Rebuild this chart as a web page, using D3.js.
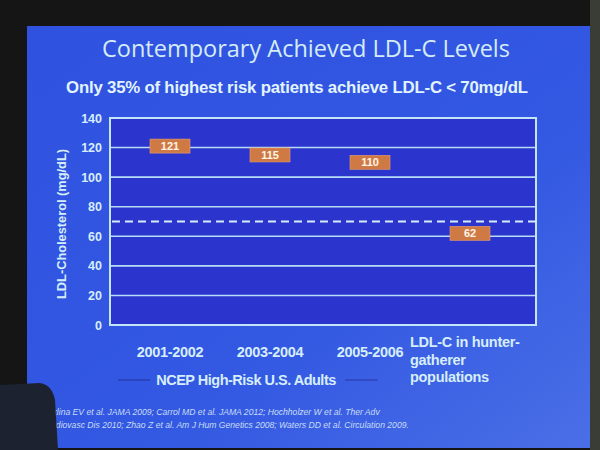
<!DOCTYPE html>
<html><head><meta charset="utf-8">
<script src="https://cdn.jsdelivr.net/npm/d3@7"></script>
<style>body{margin:0;background:#151515;}svg{display:block;}</style>
</head><body>
<svg id="c" width="600" height="450"></svg>
<script>
const categories = ["2001-2002","2003-2004","2005-2006","LDL-C in hunter-gatherer populations"];
const values = [121,115,110,62];
const yTicks = [0,20,40,60,80,100,120,140];
const goal = 70;
const title = "Contemporary Achieved LDL-C Levels";
const subtitle = "Only 35% of highest risk patients achieve LDL-C < 70mg/dL";
const refs = ["Kuklina EV et al. JAMA 2009; Carrol MD et al. JAMA 2012; Hochholzer W et al. Ther Adv",
              "Cardiovasc Dis 2010; Zhao Z et al.  Am J Hum Genetics 2008; Waters DD et al. Circulation 2009."];

const svg = d3.select("#c");
const defs = svg.append("defs");
const g1 = defs.append("linearGradient").attr("id","bg").attr("x1",0).attr("y1",0).attr("x2",1).attr("y2",1);
g1.append("stop").attr("offset","0%").attr("stop-color","#2f52e0");
g1.append("stop").attr("offset","60%").attr("stop-color","#3358e2");
g1.append("stop").attr("offset","100%").attr("stop-color","#4a6fe6");

// slide
svg.append("rect").attr("x",27).attr("y",26).attr("width",564).attr("height",422).attr("fill","url(#bg)");
svg.append("rect").attr("x",590).attr("y",0).attr("width",10).attr("height",450).attr("fill","#3a3d36");

const x = d3.scaleBand().domain(categories).range([120,520]);
const y = d3.scaleLinear().domain([0,140]).range([325,118]);
const L = 110, R = 536;

// plot area
svg.append("rect").attr("x",L).attr("y",y(140)).attr("width",R-L).attr("height",y(0)-y(140))
  .attr("fill","#2b34cc");

// gridlines
svg.append("g").selectAll("line").data(yTicks.filter(d=>d>0&&d<140)).join("line")
  .attr("x1",L).attr("x2",R).attr("y1",d=>y(d)).attr("y2",d=>y(d))
  .attr("stroke","#b8dcf6").attr("stroke-width",1.6);
svg.append("rect").attr("x",L).attr("y",y(140)).attr("width",R-L).attr("height",y(0)-y(140))
  .attr("fill","none").attr("stroke","#c4e4f8").attr("stroke-width",2);
svg.append("line").attr("x1",L+2).attr("x2",R).attr("y1",y(goal)).attr("y2",y(goal))
  .attr("stroke","#d8ecf8").attr("stroke-width",2).attr("stroke-dasharray","8,5");

// y axis
const yAxis = d3.axisLeft(y).tickValues(yTicks).tickSize(0).tickPadding(8);
const ya = svg.append("g").attr("transform",`translate(${L},0)`).call(yAxis);
ya.select(".domain").remove();
ya.selectAll("text").attr("fill","#d6eefc").attr("font-family","Liberation Sans, Arial")
  .attr("font-size",12.5).attr("font-weight","bold");
svg.append("text").attr("transform","translate(66,224) rotate(-90)").attr("text-anchor","middle")
  .attr("fill","#d6eefc").attr("font-family","Liberation Sans, Arial").attr("font-size",12.8).attr("font-weight","bold")
  .text("LDL-Cholesterol (mg/dL)");

// value markers
const mk = svg.append("g").selectAll("g").data(categories).join("g")
  .attr("transform",(d,i)=>`translate(${x(d)+x.bandwidth()/2},${y(values[i])})`);
mk.append("rect").attr("x",-20).attr("y",-7).attr("width",40).attr("height",14)
  .attr("fill","#cf7a45").attr("stroke","#e8a070").attr("stroke-width",0.6);
mk.append("text").attr("text-anchor","middle").attr("dy","0.36em").attr("fill","#fff4e6")
  .attr("font-family","Liberation Sans, Arial").attr("font-size",11).attr("font-weight","bold")
  .text((d,i)=>values[i]);

// x labels
const xf = "#d6eefc";
categories.slice(0,3).forEach(c=>{
  svg.append("text").attr("x",x(c)+x.bandwidth()/2).attr("y",357).attr("text-anchor","middle")
    .attr("fill",xf).attr("font-family","Liberation Sans, Arial").attr("font-size",14.5).attr("font-weight","bold")
    .attr("letter-spacing","-0.3").text(c);
});
const lastLines = ["LDL-C in hunter-","gatherer","populations"];
const lt = svg.append("text").attr("x",410).attr("y",347).attr("fill",xf)
  .attr("font-family","Liberation Sans, Arial").attr("font-size",14.5).attr("font-weight","bold").attr("letter-spacing","-0.3");
lastLines.forEach((t,i)=>lt.append("tspan").attr("x",410).attr("dy",i?17.5:0).text(t));

svg.append("text").attr("x",246).attr("y",385).attr("text-anchor","middle").attr("fill",xf)
  .attr("font-family","Liberation Sans, Arial").attr("font-size",14.5).attr("font-weight","bold")
  .attr("letter-spacing","-0.5").text("NCEP High-Risk U.S. Adults");
svg.append("line").attr("x1",118).attr("x2",150).attr("y1",380).attr("y2",380).attr("stroke","#2836a8").attr("stroke-width",1.2);
svg.append("line").attr("x1",345).attr("x2",378).attr("y1",380).attr("y2",380).attr("stroke","#2836a8").attr("stroke-width",1.2);

// titles
svg.append("text").attr("x",306).attr("y",57).attr("text-anchor","middle").attr("fill","#d4ecf8")
  .attr("font-family","Open Sans, sans-serif").attr("font-size",23.5).text(title);
svg.append("text").attr("x",297).attr("y",93).attr("text-anchor","middle").attr("fill","#e2f4ff")
  .attr("font-family","Liberation Sans, Arial").attr("font-size",16.8).attr("font-weight","bold")
  .attr("letter-spacing","-0.2").text(subtitle);

// references
refs.forEach((r,i)=>{
  svg.append("text").attr("x",42).attr("y",415+i*13).attr("fill","#c8ddf4").attr("font-family","Liberation Sans, Arial")
    .attr("font-size",8.6).attr("font-style","italic").text(r);
});

// foreground object (bottom-left)
svg.append("path").attr("d","M0,385 L40,383 Q52,385 55,400 L58,450 L0,450 Z").attr("fill","#1c2230");
</script>
</body></html>
